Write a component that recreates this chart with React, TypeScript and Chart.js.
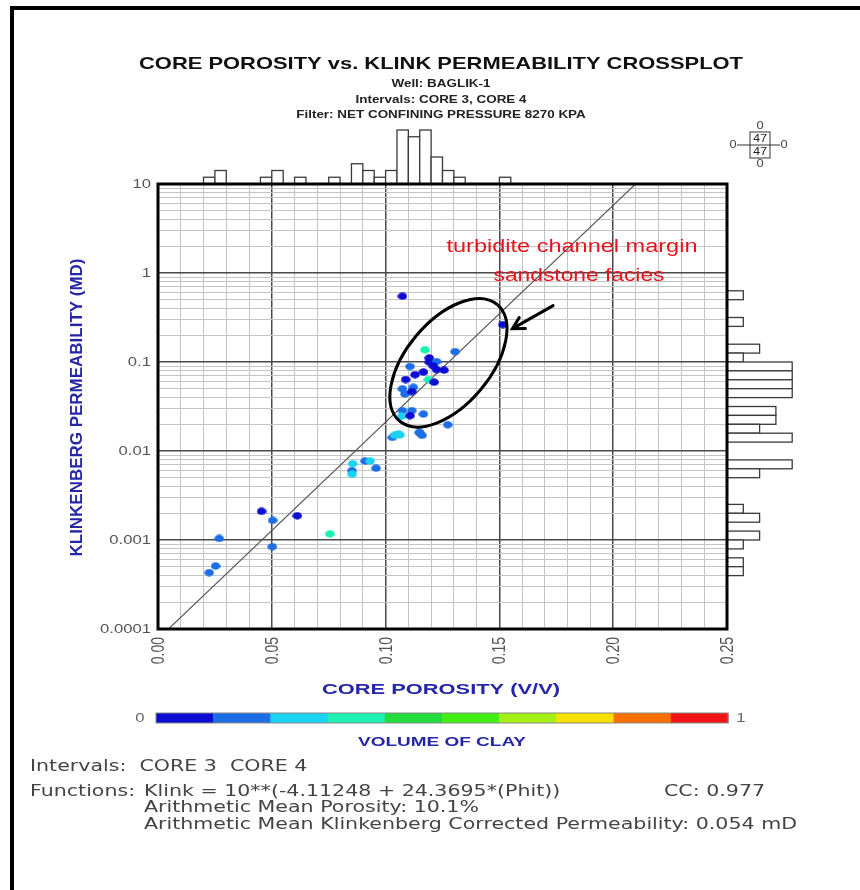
import React, { useEffect, useRef } from 'react';
import { Chart, registerables } from 'chart.js';

Chart.register(...registerables);

// ---------------- data ----------------
const porosity = [
  0.0225, 0.0253, 0.0269, 0.0455, 0.0504, 0.0502, 0.0612, 0.0755,
  0.0855, 0.0852, 0.0853, 0.0910, 0.0932, 0.0958, 0.1030, 0.1040,
  0.1056, 0.1074, 0.1088, 0.1074, 0.1085, 0.1074, 0.1070, 0.1063,
  0.1107, 0.1129, 0.1122, 0.1115, 0.1115, 0.1107, 0.1148,
  0.1151, 0.1173, 0.1192, 0.1192, 0.1166, 0.1188, 0.1166, 0.1160,
  0.1224, 0.1224, 0.1213, 0.1210, 0.1257, 0.1273, 0.1305, 0.1515,
];
const permeability = [
  0.00043, 0.00051, 0.00104, 0.0021, 0.00166, 0.00084, 0.00187, 0.00117,
  0.0072, 0.0060, 0.0055, 0.0077, 0.0077, 0.0064, 0.0142, 0.0150,
  0.0155, 0.548, 0.0635, 0.0499, 0.0438, 0.0284, 0.0245, 0.0152,
  0.089, 0.072, 0.052, 0.0464, 0.0284, 0.0249, 0.0162,
  0.0159, 0.137, 0.111, 0.0997, 0.077, 0.0635, 0.026, 0.015,
  0.101, 0.082, 0.0593, 0.090, 0.081, 0.0197, 0.131, 0.263,
];
const volumeOfClay = [
  0.15, 0.15, 0.15, 0.05, 0.15, 0.15, 0.05, 0.35,
  0.25, 0.15, 0.25, 0.15, 0.25, 0.15, 0.15, 0.25,
  0.25, 0.05, 0.05, 0.15, 0.15, 0.15, 0.25, 0.25,
  0.15, 0.05, 0.15, 0.05, 0.15, 0.05, 0.15,
  0.15, 0.35, 0.05, 0.05, 0.05, 0.35, 0.15, 0.15,
  0.15, 0.05, 0.05, 0.05, 0.05, 0.15, 0.15, 0.05,
];

// porosity histogram (bin start, count), bin width 0.005
const porosityBinStart = [0.020, 0.025, 0.045, 0.050, 0.060, 0.075, 0.085, 0.090, 0.095, 0.100, 0.105, 0.110, 0.115, 0.120, 0.125, 0.130, 0.150];
const porosityBinCount = [1, 2, 1, 2, 1, 1, 3, 2, 1, 2, 8, 7, 8, 4, 2, 1, 1];
const porosityBinWidth = 0.005;

// permeability histogram (log10 bin start, count), bin width 0.1 decade
const permLogBinStart = [-0.3, -0.6, -0.9, -1.0, -1.1, -1.2, -1.3, -1.4, -1.6, -1.7, -1.8, -1.9, -2.2, -2.3, -2.7, -2.8, -3.0, -3.1, -3.3, -3.4];
const permLogBinCount = [1, 1, 2, 1, 4, 4, 4, 4, 3, 3, 2, 4, 4, 2, 1, 2, 2, 1, 1, 1];
const permLogBinWidth = 0.1;

const clayColors = ['#0c0cd2', '#1c6ee6', '#1ad2f2', '#1cf0b2', '#22dc3c', '#40f014', '#a4f014', '#fae000', '#f87000', '#f01414'];

const xTickValues = [0, 0.05, 0.1, 0.15, 0.2, 0.25];
const xTickLabels = ['0.00', '0.05', '0.10', '0.15', '0.20', '0.25'];
const yTickValues = [0.0001, 0.001, 0.01, 0.1, 1, 10];
const yTickLabels = ['0.0001', '0.001', '0.01', '0.1', '1', '10'];

const fitIntercept = -4.11248;
const fitSlope = 24.3695;
const pointCount = 47;

// annotation anchors (data coordinates)
const ellipseCenter = { x: 0.1276, y: 0.098 };
const arrowTip = { x: 0.1557, y: 0.237 };
const arrowTail = { x: 0.1736, y: 0.43 };

const X_MIN = 0, X_MAX = 0.25, Y_MIN = 0.0001, Y_MAX = 10;
const HS = 1.28; // horizontal stretch of the source picture's lettering

function clayColor(v: number) {
  const i = Math.min(clayColors.length - 1, Math.max(0, Math.floor(v * 10)));
  return clayColors[i];
}

const dotCache: Record<string, HTMLCanvasElement> = {};
function dotFor(color: string) {
  if (dotCache[color]) return dotCache[color];
  const c = document.createElement('canvas');
  c.width = 10; c.height = 8;
  const g = c.getContext('2d')!;
  g.fillStyle = color;
  g.beginPath();
  g.ellipse(5, 4, 4.8, 3.7, 0, 0, Math.PI * 2);
  g.fill();
  dotCache[color] = c;
  return c;
}

function drawText(ctx: CanvasRenderingContext2D, s: string, x: number, y: number, font: string, color: string,
  align: CanvasTextAlign = 'left', opts: { width?: number; hs?: number; rotate?: number } = {}) {
  ctx.save();
  ctx.font = font;
  ctx.fillStyle = color;
  ctx.textBaseline = 'middle';
  ctx.textAlign = align;
  ctx.translate(x, y);
  if (opts.hs) ctx.scale(opts.hs, 1);
  if (opts.rotate) ctx.rotate(opts.rotate);
  if (opts.width) {
    const m = ctx.measureText(s).width;
    ctx.scale(opts.width / m, 1);
  }
  ctx.fillText(s, 0, 0);
  ctx.restore();
}

const overlayPlugin = {
  id: 'overlay',
  beforeDraw(chart: any) {
    const ctx = chart.ctx as CanvasRenderingContext2D;
    ctx.save();
    ctx.fillStyle = '#ffffff';
    ctx.fillRect(0, 0, chart.width, chart.height);
    ctx.restore();
  },
  afterDraw(chart: any) {
    const ctx = chart.ctx as CanvasRenderingContext2D;
    const ca = chart.chartArea;
    const xs = chart.scales.x;
    const ys = chart.scales.y;
    const SANS = '"Liberation Sans", Arial, sans-serif';
    const ROUND = '"DejaVu Sans", sans-serif';
    const axisBlue = '#2626a8';

    ctx.save();
    // outer picture frame
    ctx.fillStyle = '#000';
    ctx.fillRect(10, 6, 850, 4);
    ctx.fillRect(10, 6, 4, 884);

    // top histogram
    ctx.lineWidth = 1.3;
    ctx.strokeStyle = '#3a3a3a';
    porosityBinStart.forEach((s, i) => {
      const x0 = xs.getPixelForValue(s);
      const x1 = xs.getPixelForValue(s + porosityBinWidth);
      const h = porosityBinCount[i] * 6.75;
      ctx.fillStyle = '#fff';
      ctx.fillRect(x0, ca.top - h, x1 - x0, h);
      ctx.strokeRect(x0, ca.top - h, x1 - x0, h);
    });
    // right histogram
    permLogBinStart.forEach((s, i) => {
      const yA = ys.getPixelForValue(Math.pow(10, s));
      const yB = ys.getPixelForValue(Math.pow(10, s + permLogBinWidth));
      const w = permLogBinCount[i] * 16.3;
      ctx.fillStyle = '#fff';
      ctx.fillRect(ca.right, yB, w, yA - yB);
      ctx.strokeRect(ca.right, yB, w, yA - yB);
    });

    // plot frame
    ctx.strokeStyle = '#000';
    ctx.lineWidth = 3;
    ctx.strokeRect(ca.left, ca.top, ca.right - ca.left, ca.bottom - ca.top);

    // tick labels
    yTickValues.forEach((v, i) => {
      drawText(ctx, yTickLabels[i], ca.left - 7, ys.getPixelForValue(v), '13px ' + SANS, '#555', 'right', { hs: HS });
    });
    xTickValues.forEach((v, i) => {
      drawText(ctx, xTickLabels[i], xs.getPixelForValue(v) + 1, ca.bottom + 8, '14px ' + SANS, '#555', 'right', { hs: HS, rotate: -Math.PI / 2 });
    });

    // titles
    drawText(ctx, 'CORE POROSITY vs. KLINK PERMEABILITY CROSSPLOT', 441, 64, 'bold 17px ' + SANS, '#111', 'center', { width: 604 });
    drawText(ctx, 'Well: BAGLIK-1', 441, 84, 'bold 10.5px ' + SANS, '#222', 'center', { hs: HS });
    drawText(ctx, 'Intervals: CORE 3, CORE 4', 441, 100, 'bold 10.5px ' + SANS, '#222', 'center', { hs: HS });
    drawText(ctx, 'Filter: NET CONFINING PRESSURE 8270 KPA', 441, 115, 'bold 10.5px ' + SANS, '#222', 'center', { hs: HS });

    drawText(ctx, 'KLINKENBERG PERMEABILITY (MD)', 78, (ca.top + ca.bottom) / 2 + 1, 'bold 14px ' + SANS, axisBlue, 'center', { hs: 1.15, rotate: -Math.PI / 2, width: 298 });
    drawText(ctx, 'CORE POROSITY (V/V)', 441, 690, 'bold 15px ' + SANS, axisBlue, 'center', { width: 238 });

    // colour bar
    const cbL = ca.left - 2, cbR = ca.right + 1, cbT = 713, cbH = 10;
    const segW = (cbR - cbL) / clayColors.length;
    clayColors.forEach((c, i) => {
      ctx.fillStyle = c;
      ctx.fillRect(cbL + i * segW, cbT, segW + 0.5, cbH);
    });
    ctx.strokeStyle = '#888';
    ctx.lineWidth = 1;
    ctx.strokeRect(cbL, cbT, cbR - cbL, cbH);
    drawText(ctx, '0', 140, cbT + cbH / 2, '13px ' + SANS, '#666', 'center', { hs: HS });
    drawText(ctx, '1', 741, cbT + cbH / 2, '13px ' + SANS, '#666', 'center', { hs: HS });
    drawText(ctx, 'VOLUME OF CLAY', 442, 742, 'bold 13.5px ' + SANS, axisBlue, 'center', { width: 168 });

    // bottom statistics text (one uniform stretch, taken from the longest line)
    const STAT = '15px ' + ROUND;
    const grey = '#444';
    const longLine = 'Arithmetic Mean Klinkenberg Corrected Permeability: 0.054 mD';
    ctx.font = STAT;
    const statHs = 653 / ctx.measureText(longLine).width;
    drawText(ctx, 'Intervals:  CORE 3  CORE 4', 30, 767, STAT, grey, 'left', { hs: statHs });
    drawText(ctx, 'Functions:', 30, 792, STAT, grey, 'left', { hs: statHs });
    drawText(ctx, `Klink = 10**(${fitIntercept} + ${fitSlope}*(Phit))`, 144, 792, STAT, grey, 'left', { hs: statHs });
    drawText(ctx, 'CC: 0.977', 664, 792, STAT, grey, 'left', { hs: statHs });
    drawText(ctx, 'Arithmetic Mean Porosity: 10.1%', 144, 808, STAT, grey, 'left', { hs: statHs });
    drawText(ctx, longLine, 144, 825, STAT, grey, 'left', { hs: statHs });

    // sample-count legend
    const bx = 750, by = 132, bw = 20, bh = 26;
    ctx.strokeStyle = '#333';
    ctx.lineWidth = 1;
    ctx.strokeRect(bx, by, bw, bh);
    ctx.beginPath();
    ctx.moveTo(bx, by + bh / 2); ctx.lineTo(bx + bw, by + bh / 2);
    ctx.moveTo(737, by + bh / 2); ctx.lineTo(bx, by + bh / 2);
    ctx.moveTo(bx + bw, by + bh / 2); ctx.lineTo(780, by + bh / 2);
    ctx.stroke();
    drawText(ctx, String(pointCount), bx + bw / 2, by + bh / 4 + 0.5, '10px ' + SANS, '#222', 'center', { hs: HS });
    drawText(ctx, String(pointCount), bx + bw / 2, by + (3 * bh) / 4 + 0.5, '10px ' + SANS, '#222', 'center', { hs: HS });
    drawText(ctx, '0', bx + bw / 2, 126, '10px ' + SANS, '#444', 'center', { hs: HS });
    drawText(ctx, '0', bx + bw / 2, 164, '10px ' + SANS, '#444', 'center', { hs: HS });
    drawText(ctx, '0', 733, by + bh / 2, '10px ' + SANS, '#444', 'center', { hs: HS });
    drawText(ctx, '0', 784, by + bh / 2, '10px ' + SANS, '#444', 'center', { hs: HS });

    // annotation: ellipse, arrow, text
    const ecx = xs.getPixelForValue(ellipseCenter.x);
    const ecy = ys.getPixelForValue(ellipseCenter.y);
    ctx.strokeStyle = '#000';
    ctx.lineWidth = 3;
    ctx.beginPath();
    ctx.ellipse(ecx, ecy, 76, 42, -50 * Math.PI / 180, 0, Math.PI * 2);
    ctx.stroke();

    const tx = xs.getPixelForValue(arrowTip.x), ty = ys.getPixelForValue(arrowTip.y);
    const sx = xs.getPixelForValue(arrowTail.x), sy = ys.getPixelForValue(arrowTail.y);
    const ang = Math.atan2(ty - sy, tx - sx);
    ctx.lineWidth = 3;
    ctx.lineCap = 'round';
    ctx.beginPath();
    ctx.moveTo(sx, sy); ctx.lineTo(tx, ty);
    const hl = 13;
    ctx.moveTo(tx + hl * Math.cos(ang + Math.PI - 0.5), ty + hl * Math.sin(ang + Math.PI - 0.5));
    ctx.lineTo(tx, ty);
    ctx.lineTo(tx + hl * Math.cos(ang + Math.PI + 0.5), ty + hl * Math.sin(ang + Math.PI + 0.5));
    ctx.stroke();

    drawText(ctx, 'turbidite channel margin', 572, 247, '18px ' + SANS, '#e8141c', 'center', { width: 251 });
    drawText(ctx, 'sandstone facies', 579, 276, '18px ' + SANS, '#e8141c', 'center', { width: 171 });

    ctx.restore();
  },
};

const xGrid: number[] = [];
for (let i = 0; i <= 25; i++) xGrid.push(i / 100);
const yGrid: number[] = [];
for (let e = -4; e <= 0; e++) for (let m = 1; m <= 9; m++) yGrid.push(m * Math.pow(10, e));
yGrid.push(10);

const isMajorX = (v: number) => Math.abs(v * 20 - Math.round(v * 20)) < 1e-6;
const isMajorY = (v: number) => { const l = Math.log10(v); return Math.abs(l - Math.round(l)) < 1e-6; };

export default function App() {
  const ref = useRef<HTMLCanvasElement | null>(null);
  useEffect(() => {
    if (!ref.current) return;
    const lineStart = (Math.log10(Y_MIN) - fitIntercept) / fitSlope;
    const lineEnd = (Math.log10(Y_MAX) - fitIntercept) / fitSlope;
    const pointColors = volumeOfClay.map(clayColor);
    const chart = new Chart(ref.current, {
      type: 'scatter',
      data: {
        datasets: [
          {
            type: 'scatter',
            label: 'samples',
            data: porosity.map((p, i) => ({ x: p, y: permeability[i] })),
            pointStyle: pointColors.map(dotFor),
            pointRadius: 4.5,
            pointHoverRadius: 4.5,
            pointBorderWidth: 0,
            pointBackgroundColor: pointColors,
            pointBorderColor: pointColors,
            order: 0,
          } as any,
          {
            type: 'line',
            label: 'fit',
            data: [{ x: lineStart, y: Y_MIN }, { x: lineEnd, y: Y_MAX }],
            borderColor: '#555',
            borderWidth: 1.1,
            pointRadius: 0,
            showLine: true,
            order: 1,
          } as any,
        ],
      },
      options: {
        responsive: false,
        animation: false,
        devicePixelRatio: 1,
        layout: { padding: { left: 158, right: 133, top: 184, bottom: 261 } },
        plugins: { legend: { display: false }, tooltip: { enabled: false }, title: { display: false } },
        scales: {
          x: {
            type: 'linear',
            min: X_MIN,
            max: X_MAX,
            afterBuildTicks: (s: any) => { s.ticks = xGrid.map((v) => ({ value: v })); },
            afterFit: (s: any) => { s.height = 0; },
            ticks: { display: false },
            border: { display: false },
            grid: {
              drawTicks: false,
              color: (c: any) => (c.tick && isMajorX(c.tick.value) ? '#4a4a4a' : '#c4c4c4'),
              lineWidth: (c: any) => (c.tick && isMajorX(c.tick.value) ? 1.5 : 1),
            },
          },
          y: {
            type: 'logarithmic',
            min: Y_MIN,
            max: Y_MAX,
            afterBuildTicks: (s: any) => { s.ticks = yGrid.map((v) => ({ value: v })); },
            afterFit: (s: any) => { s.width = 0; },
            ticks: { display: false },
            border: { display: false },
            grid: {
              drawTicks: false,
              color: (c: any) => (c.tick && isMajorY(c.tick.value) ? '#4a4a4a' : '#c4c4c4'),
              lineWidth: (c: any) => (c.tick && isMajorY(c.tick.value) ? 1.5 : 1),
            },
          },
        },
      },
      plugins: [overlayPlugin],
    });
    return () => chart.destroy();
  }, []);
  return (
    <div style={{ position: 'absolute', left: 0, top: 0, width: 860, height: 890, background: '#fff' }}>
      <canvas ref={ref} width={860} height={890} style={{ display: 'block' }} />
    </div>
  );
}
